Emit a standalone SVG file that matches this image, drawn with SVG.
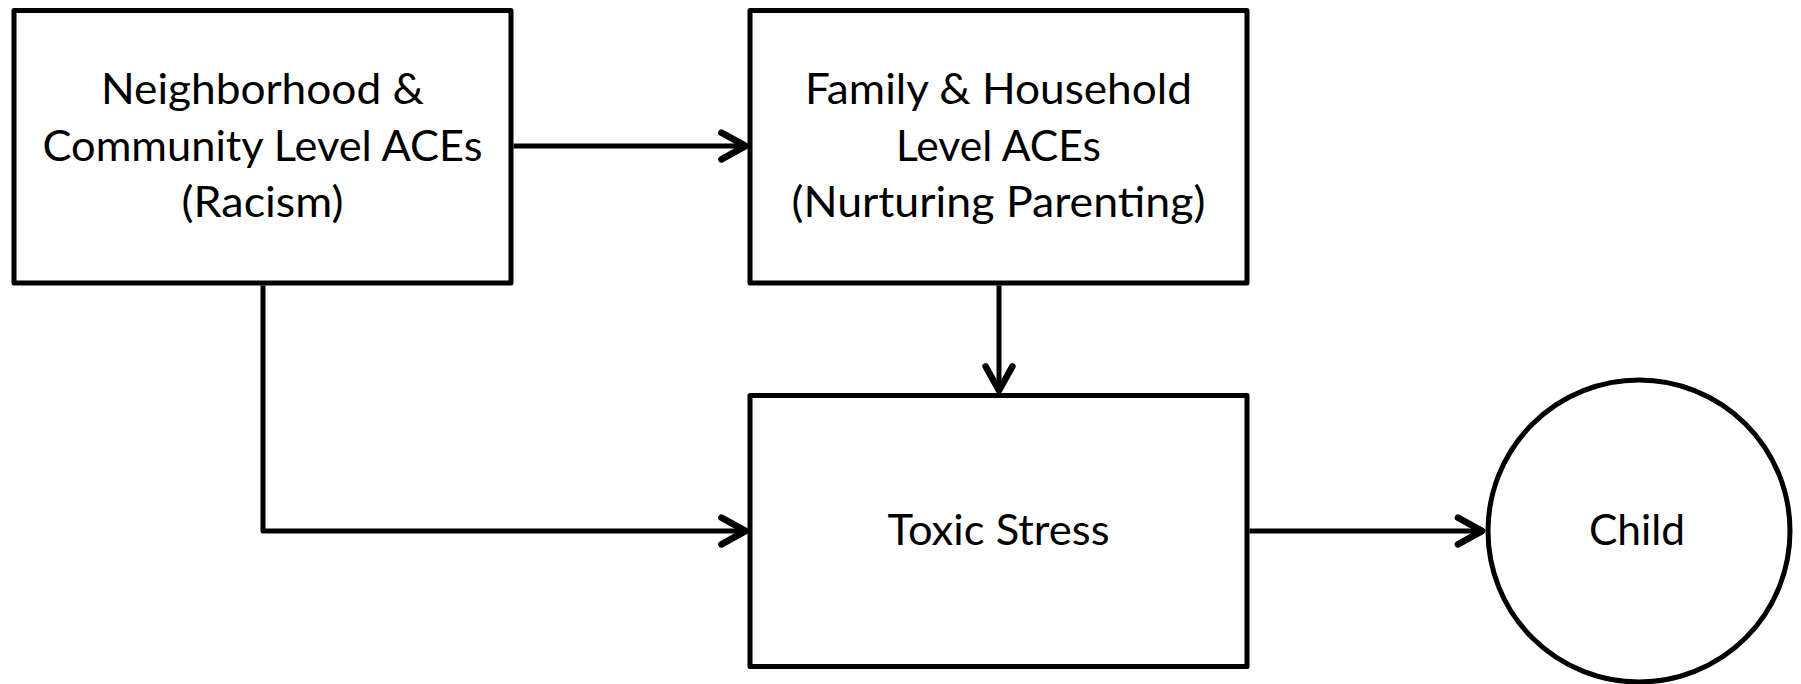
<svg xmlns="http://www.w3.org/2000/svg" width="1801" height="684" viewBox="0 0 1801 684">
  <style>
    .box { fill: #ffffff; stroke: #000000; stroke-width: 5; stroke-linejoin: round; }
    .lbl { font-family: Lato, "Open Sans", "Liberation Sans", sans-serif; font-size: 43px; fill: #000000; text-anchor: middle; }
    .conn { fill: none; stroke: #000000; stroke-width: 5; stroke-linejoin: round; }
  </style>
  <defs>
    <marker id="arrow" markerUnits="userSpaceOnUse" markerWidth="40" markerHeight="40" viewBox="-25 -15 30 30" refX="0" refY="0" orient="auto" overflow="visible">
      <path d="M-18,-10 L0,0 L-18,10" fill="none" stroke="#000000" stroke-width="5" stroke-linecap="round" stroke-linejoin="round"/>
    </marker>
  </defs>
  <rect width="1801" height="684" fill="#ffffff"/>

  <g id="connectors">
    <path class="conn" d="M513.5,146 L745.5,146" marker-end="url(#arrow)"/>
    <path class="conn" d="M263,285.5 L263,531 L745.5,531" marker-end="url(#arrow)"/>
    <path class="conn" d="M999,285.5 L999,390.5" marker-end="url(#arrow)"/>
    <path class="conn" d="M1249.5,531 L1482,531" marker-end="url(#arrow)"/>
  </g>

  <g id="node-neighborhood">
    <rect class="box" x="14" y="10.5" width="497" height="272.5"/>
    <text class="lbl" x="262.5" y="104" textLength="323" lengthAdjust="spacingAndGlyphs">Neighborhood &amp;</text>
    <text class="lbl" x="262.5" y="161" textLength="440" lengthAdjust="spacingAndGlyphs">Community Level ACEs</text>
    <text class="lbl" x="262.5" y="217" textLength="162" lengthAdjust="spacingAndGlyphs">(Racism)</text>
  </g>

  <g id="node-family">
    <rect class="box" x="750" y="10.5" width="497" height="272.5"/>
    <text class="lbl" x="998.5" y="104" textLength="387" lengthAdjust="spacingAndGlyphs">Family &amp; Household</text>
    <text class="lbl" x="998.5" y="161" textLength="205" lengthAdjust="spacingAndGlyphs">Level ACEs</text>
    <text class="lbl" x="998.5" y="217" textLength="414" lengthAdjust="spacingAndGlyphs">(Nurturing Parenting)</text>
  </g>

  <g id="node-toxic-stress">
    <rect class="box" x="750" y="395.5" width="497" height="271"/>
    <text class="lbl" x="998.5" y="545" textLength="222" lengthAdjust="spacingAndGlyphs">Toxic Stress</text>
  </g>

  <g id="node-child">
    <circle class="box" cx="1639" cy="531" r="151"/>
    <text class="lbl" x="1637" y="545" textLength="96" lengthAdjust="spacingAndGlyphs">Child</text>
  </g>
</svg>
